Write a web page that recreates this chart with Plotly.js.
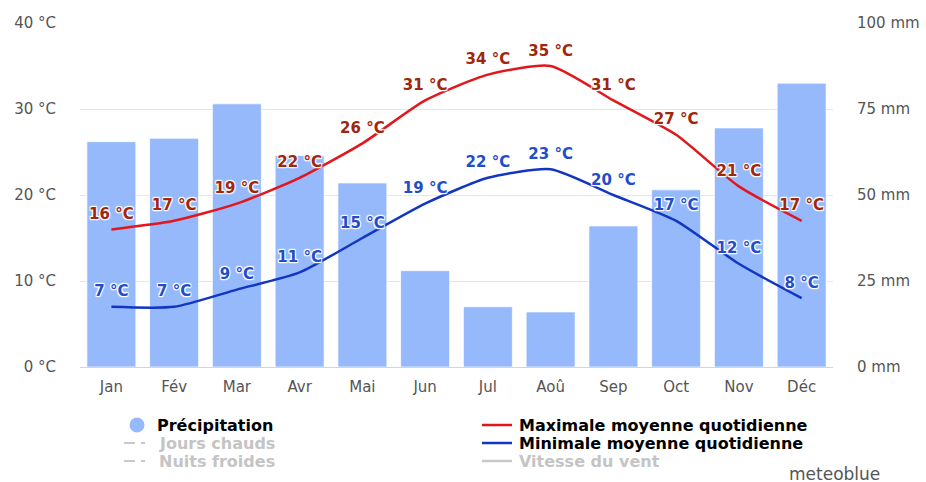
<!DOCTYPE html>
<html>
<head>
<meta charset="utf-8">
<script src="https://cdn.plot.ly/plotly-3.0.1.min.js"></script>
<style>html,body{margin:0;padding:0;background:#fff;}#chart{width:926px;height:482px;}</style>
</head>
<body>
<div id="chart"></div>
<script>
const months = ["Jan","Fév","Mar","Avr","Mai","Jun","Jul","Aoû","Sep","Oct","Nov","Déc"];
const precipitation = [65.5, 66.5, 76.5, 61.5, 53.5, 28, 17.5, 16, 41, 51.5, 69.5, 82.5];
const tempMax = [16, 17, 19, 22, 26, 31, 34, 35, 31, 27, 21, 17];
const tempMin = [7, 7, 9, 11, 15, 19, 22, 23, 20, 17, 12, 8];
const tempTicks = [0, 10, 20, 30, 40];
const precipTicks = [0, 25, 50, 75, 100];

const FONT = "DejaVu Sans, Verdana, sans-serif";
const halo = "1px 1px 1px #fff, -1px -1px 1px #fff, 1px -1px 1px #fff, -1px 1px 1px #fff, 0px 1px 1px #fff, 0px -1px 1px #fff";

const traces = [
  {
    type: "bar", x: months, y: precipitation, yaxis: "y",
    marker: {color: "#95b9fb", line: {color: "rgba(255,255,255,0.7)", width: 1}},
    hoverinfo: "skip", showlegend: false
  },
  {
    type: "scatter", mode: "lines+markers+text", x: months, y: tempMax, yaxis: "y2",
    line: {color: "#e2161c", width: 2.5, shape: "spline", smoothing: 0.6},
    marker: {size: 9, color: "rgba(0,0,0,0)"},
    text: tempMax.map(v => v + " °C"), textposition: "top center",
    textfont: {family: FONT, size: 15, weight: 700, color: "#a0260c", shadow: halo},
    cliponaxis: false, showlegend: false
  },
  {
    type: "scatter", mode: "lines+markers+text", x: months, y: tempMin, yaxis: "y2",
    line: {color: "#1236c2", width: 2.5, shape: "spline", smoothing: 0.6},
    marker: {size: 9, color: "rgba(0,0,0,0)"},
    text: tempMin.map(v => v + " °C"), textposition: "top center",
    textfont: {family: FONT, size: 15, weight: 700, color: "#1f4dcc", shadow: halo},
    cliponaxis: false, showlegend: false
  }
];

// pixel -> paper helpers for legend placement
const L = 80, R = 833, T = 23, B = 367;
const px = x => (x - L) / (R - L);
const py = y => (B - y) / (B - T);

const legendText = (x, y, text, color) => ({
  xref: "paper", yref: "paper", x: px(x), y: py(y), xanchor: "left", yanchor: "middle",
  text: text, showarrow: false, borderpad: 0,
  font: {family: FONT, size: 16, weight: 700, color: color}
});

const annotations = [
  legendText(156, 425, "Précipitation", "#000"),
  legendText(158, 443, "Jours chauds", "#c4c4c4"),
  legendText(158, 461, "Nuits froides", "#c4c4c4"),
  legendText(518, 425, "Maximale moyenne quotidienne", "#000"),
  legendText(518, 443, "Minimale moyenne quotidienne", "#000"),
  legendText(518, 461, "Vitesse du vent", "#c4c4c4"),
  {xref: "paper", yref: "paper", x: px(882), y: py(474), xanchor: "right", yanchor: "middle",
   text: "meteoblue", showarrow: false, font: {family: FONT, size: 17, color: "#555"}}
];

const seg = (x0, x1, y, color, w) => ({
  type: "line", xref: "paper", yref: "paper", x0: px(x0), x1: px(x1), y0: py(y), y1: py(y),
  line: {color: color, width: w}
});

const shapes = [
  {type: "circle", xref: "paper", yref: "paper", xsizemode: "pixel", ysizemode: "pixel",
   xanchor: px(137), yanchor: py(425), x0: -7.5, x1: 7.5, y0: -7.5, y1: 7.5,
   fillcolor: "#95b9fb", line: {width: 0}},
  seg(124, 135, 443, "#c8c8c8", 2), seg(141, 145, 443, "#c8c8c8", 2),
  seg(124, 135, 461, "#c8c8c8", 2), seg(141, 145, 461, "#c8c8c8", 2),
  seg(482, 512, 425, "#e2161c", 2.5),
  seg(482, 512, 443, "#1236c2", 2.5),
  seg(482, 512, 461, "#c8c8c8", 2.5)
];

const layout = {
  width: 926, height: 482,
  margin: {l: L, r: 926 - R, t: T, b: 482 - B},
  paper_bgcolor: "#fff", plot_bgcolor: "#fff",
  showlegend: false,
  bargap: 0.22,
  font: {family: FONT, color: "#555"},
  xaxis: {
    type: "category", range: [-0.5, months.length - 0.5],
    showgrid: false, zeroline: false, automargin: false,
    showline: true, linecolor: "#ccd6eb", linewidth: 1,
    ticks: "outside", ticklen: 6, tickcolor: "rgba(0,0,0,0)",
    tickfont: {family: FONT, size: 15, color: "#555"}, fixedrange: true
  },
  yaxis: {
    side: "right", range: [0, 100], tickvals: precipTicks, ticktext: precipTicks.map(v => v + " mm"),
    showgrid: true, gridcolor: "#e6e6e6", zeroline: false, automargin: false,
    ticks: "outside", ticklen: 20, tickcolor: "rgba(0,0,0,0)",
    tickfont: {family: FONT, size: 15, color: "#555"}, fixedrange: true
  },
  yaxis2: {
    overlaying: "y", side: "left", range: [0, 40], tickvals: tempTicks, ticktext: tempTicks.map(v => v + " °C"),
    showgrid: false, zeroline: false, automargin: false,
    ticks: "outside", ticklen: 20, tickcolor: "rgba(0,0,0,0)",
    tickfont: {family: FONT, size: 15, color: "#555"}, fixedrange: true
  },
  annotations: annotations,
  shapes: shapes
};

Plotly.newPlot("chart", traces, layout, {displayModeBar: false, staticPlot: true});
</script>
</body>
</html>
